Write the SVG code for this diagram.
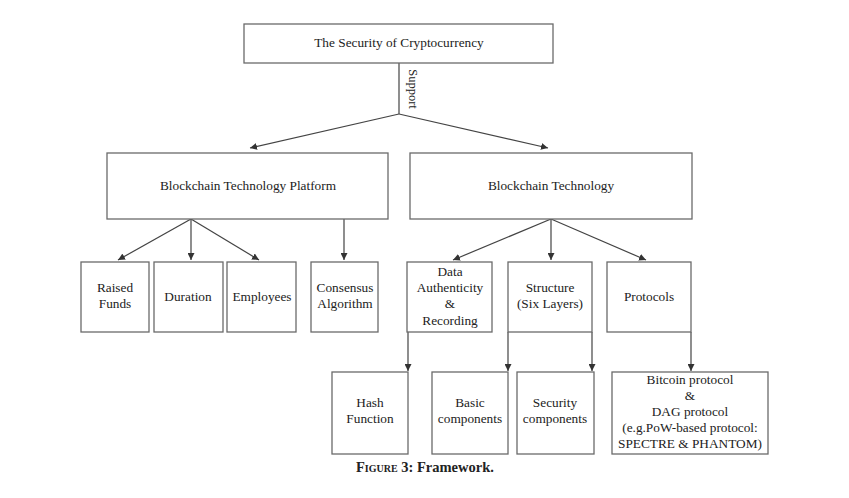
<svg xmlns="http://www.w3.org/2000/svg" width="849" height="498" viewBox="0 0 849 498">
<defs>
<marker id="ah" viewBox="0 0 10 10" refX="10" refY="5" markerWidth="7" markerHeight="7" markerUnits="userSpaceOnUse" orient="auto">
<path d="M0,0 L10,5 L0,10 z" fill="#333"/>
</marker>
<style>
.box{fill:#fff;stroke:#6a6a6a;stroke-width:1.3}
.t{font-family:"Liberation Serif","Times New Roman",serif;font-size:13.3px;fill:#222;text-anchor:middle}
.c{fill:none;stroke:#444;stroke-width:1.2}
.a{marker-end:url(#ah)}
</style>
</defs>
<rect width="849" height="498" fill="#fff"/>
<g id="connectors">
<line class="c" x1="399" y1="63" x2="399" y2="114"/>
<line class="c a" x1="399" y1="114" x2="250" y2="148"/>
<line class="c a" x1="399" y1="114" x2="548" y2="148"/>
<line class="c a" x1="191" y1="219" x2="118" y2="260"/>
<line class="c a" x1="191" y1="219" x2="191" y2="260"/>
<line class="c a" x1="191" y1="219" x2="259" y2="260"/>
<line class="c a" x1="344" y1="219" x2="344" y2="260"/>
<line class="c a" x1="551" y1="219" x2="453" y2="260"/>
<line class="c a" x1="551" y1="219" x2="551" y2="260"/>
<line class="c a" x1="551" y1="219" x2="646" y2="260"/>
<line class="c a" x1="408" y1="332" x2="408" y2="371"/>
<line class="c a" x1="508" y1="332" x2="508" y2="371"/>
<line class="c a" x1="592" y1="332" x2="592" y2="371"/>
<line class="c a" x1="691" y1="332" x2="691" y2="371"/>
<text class="t" transform="translate(409,89) rotate(90)" style="font-size:12.5px">Support</text>
</g>
<g id="security">
<rect class="box" x="244" y="24" width="309" height="39"/>
<text class="t" x="399" y="47">The Security of Cryptocurrency</text>
</g>
<g id="platform">
<rect class="box" x="107" y="153" width="281" height="66"/>
<text class="t" x="248" y="190">Blockchain Technology Platform</text>
</g>
<g id="technology">
<rect class="box" x="410" y="153" width="282" height="66"/>
<text class="t" x="551" y="190">Blockchain Technology</text>
</g>
<g id="raised">
<rect class="box" x="81" y="262" width="68" height="70"/>
<text class="t" x="115" y="292">Raised</text>
<text class="t" x="115" y="308">Funds</text>
</g>
<g id="duration">
<rect class="box" x="154" y="262" width="69" height="70"/>
<text class="t" x="188" y="301">Duration</text>
</g>
<g id="employees">
<rect class="box" x="227" y="262" width="69" height="70"/>
<text class="t" x="262" y="301">Employees</text>
</g>
<g id="consensus">
<rect class="box" x="311" y="262" width="67" height="70"/>
<text class="t" x="345" y="292">Consensus</text>
<text class="t" x="345" y="308">Algorithm</text>
</g>
<g id="data">
<rect class="box" x="407" y="262" width="85" height="70"/>
<text class="t" x="450" y="276">Data</text>
<text class="t" x="450" y="292">Authenticity</text>
<text class="t" x="450" y="308">&amp;</text>
<text class="t" x="450" y="325">Recording</text>
</g>
<g id="structure">
<rect class="box" x="508" y="262" width="84" height="70"/>
<text class="t" x="550" y="292">Structure</text>
<text class="t" x="550" y="308">(Six Layers)</text>
</g>
<g id="protocols">
<rect class="box" x="607" y="262" width="84" height="70"/>
<text class="t" x="649" y="301">Protocols</text>
</g>
<g id="hash">
<rect class="box" x="332" y="372" width="76" height="82"/>
<text class="t" x="370" y="407">Hash</text>
<text class="t" x="370" y="423">Function</text>
</g>
<g id="basic">
<rect class="box" x="432" y="372" width="76" height="82"/>
<text class="t" x="470" y="407">Basic</text>
<text class="t" x="470" y="423">components</text>
</g>
<g id="securitycomp">
<rect class="box" x="517" y="372" width="77" height="82"/>
<text class="t" x="555" y="407">Security</text>
<text class="t" x="555" y="423">components</text>
</g>
<g id="bitcoin">
<rect class="box" x="612" y="372" width="156" height="82"/>
<text class="t" x="690" y="384">Bitcoin protocol</text>
<text class="t" x="690" y="400">&amp;</text>
<text class="t" x="690" y="416">DAG protocol</text>
<text class="t" x="690" y="432">(e.g.PoW-based protocol:</text>
<text class="t" x="690" y="448">SPECTRE &amp; PHANTOM)</text>
</g>
<text x="356" y="472" style="font-family:'Liberation Serif','Times New Roman',serif;font-size:14.5px;fill:#222;font-weight:bold"><tspan style="font-variant:small-caps">Figure</tspan> 3: Framework.</text>
</svg>
